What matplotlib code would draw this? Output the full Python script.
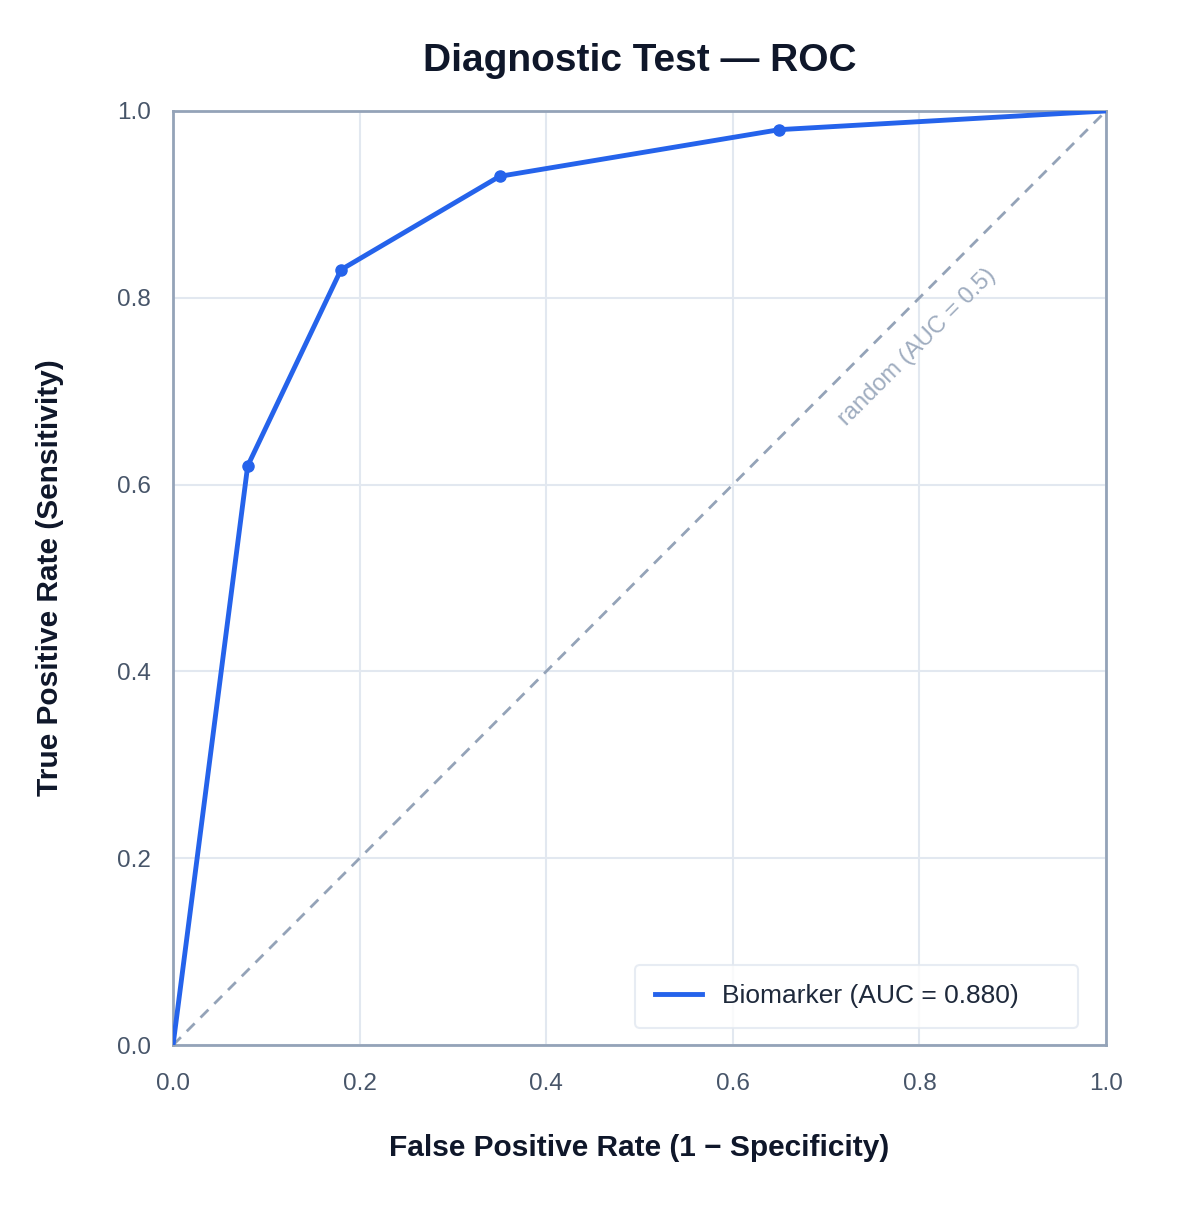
import matplotlib
matplotlib.use('Agg')
import matplotlib.pyplot as plt

plt.rcParams['font.family'] = ['Liberation Sans', 'DejaVu Sans']

fpr = [0.0, 0.08, 0.18, 0.35, 0.65, 1.0]
tpr = [0.0, 0.62, 0.83, 0.93, 0.98, 1.0]
auc_label = 'Biomarker (AUC = 0.880)'
ticks = [0.0, 0.2, 0.4, 0.6, 0.8, 1.0]

blue = '#2563eb'
slate = '#94a3b8'

fig = plt.figure(figsize=(12, 12.18), dpi=100)
ax = fig.add_axes([0.1442, 0.1420, 0.7775, 0.7669])

ax.plot([0, 1], [0, 1], linestyle=(0, (4, 3)), color=slate, linewidth=2, zorder=2)
ax.text(0.798, 0.747, 'random (AUC = 0.5)', rotation=45, color=slate, alpha=0.9,
        fontsize=17, ha='center', va='center', rotation_mode='anchor')

ax.plot(fpr, tpr, color=blue, linewidth=3.5, label=auc_label, zorder=3)
ax.plot(fpr[1:-1], tpr[1:-1], 'o', color=blue, markersize=8, zorder=4)

ax.set_xlim(0, 1)
ax.set_ylim(0, 1)
ax.set_xticks(ticks)
ax.set_yticks(ticks)
ax.set_xticklabels(['%.1f' % t for t in ticks])
ax.set_yticklabels(['%.1f' % t for t in ticks])
ax.tick_params(length=0, labelsize=17.5, labelcolor='#475569')
ax.tick_params(axis='x', pad=20)
ax.tick_params(axis='y', pad=16)
ax.grid(True, color='#e2e8f0', linewidth=1.5, zorder=0)
ax.set_axisbelow(True)
for s in ax.spines.values():
    s.set_color(slate)
    s.set_linewidth(2)

ax.set_xlabel('False Positive Rate (1 \u2212 Specificity)', fontsize=21.5, fontweight='bold',
              color='#0f172a', labelpad=28)
ax.set_ylabel('True Positive Rate (Sensitivity)', fontsize=21.5, fontweight='bold',
              color='#0f172a', labelpad=38)
ax.set_title('Diagnostic Test \u2014 ROC', fontsize=28, fontweight='bold', color='#0f172a', pad=29)

leg = ax.legend(loc='lower left', fontsize=19, frameon=True, fancybox=True,
                borderpad=0.75, borderaxespad=0, handlelength=1.8, handletextpad=0.75,
                mode='expand', bbox_to_anchor=(0.495, 0.018, 0.475, 0.066))
leg.get_frame().set_edgecolor('#e2e8f0')
leg.get_frame().set_linewidth(1.5)
for t in leg.get_texts():
    t.set_color('#1e293b')

fig.savefig('out.png', dpi=100, facecolor='white')
